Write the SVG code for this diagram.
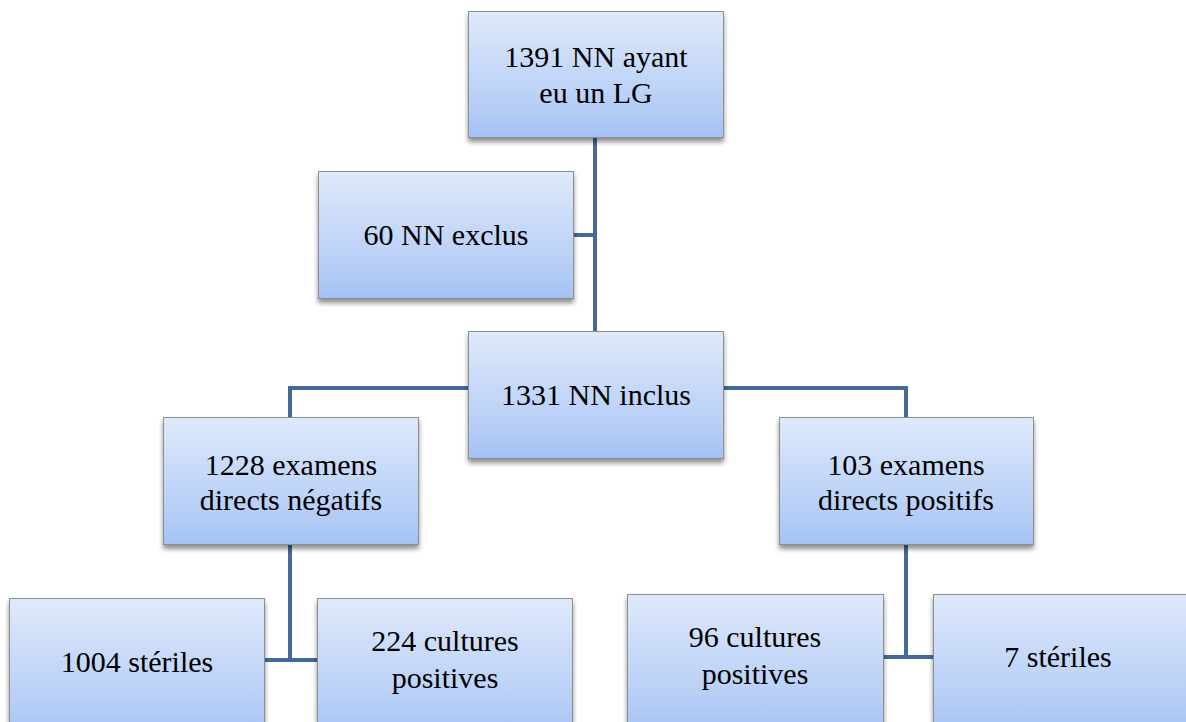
<svg xmlns="http://www.w3.org/2000/svg" width="1186" height="722" viewBox="0 0 1186 722">
<defs>
<linearGradient id="g" x1="0" y1="0" x2="0" y2="1">
<stop offset="0" stop-color="#dfe9fb"/>
<stop offset="0.8" stop-color="#b3ccf6"/>
<stop offset="1" stop-color="#a3c1f6"/>
</linearGradient>
<filter id="sh" x="-10%" y="-10%" width="120%" height="130%">
<feGaussianBlur in="SourceAlpha" stdDeviation="2.5"/>
<feOffset dx="0" dy="4" result="b"/>
<feComponentTransfer><feFuncA type="linear" slope="0.45"/></feComponentTransfer>
<feMerge><feMergeNode/><feMergeNode in="SourceGraphic"/></feMerge>
</filter>
</defs>
<style>
.box{fill:url(#g);stroke:#8e8e8e;stroke-width:1;filter:url(#sh)}
.t{font-family:"Liberation Serif",Tinos,"Times New Roman",Times,"Nimbus Roman","Noto Serif","DejaVu Serif",FreeSerif,serif;font-size:30px;fill:#000;text-anchor:middle}
.c{fill:none;stroke:#44699a;stroke-width:4}
</style>
<rect width="1186" height="722" fill="#fff"/>
<g id="connectors">
<path class="c" d="M595,137 V331"/>
<path class="c" d="M573,235 H595"/>
<path class="c" d="M468,388 H290 V417"/>
<path class="c" d="M723,388 H906 V417"/>
<path class="c" d="M290,545 V660"/>
<path class="c" d="M264,660 H317"/>
<path class="c" d="M906,545 V657"/>
<path class="c" d="M884,657 H933"/>
</g>
<g id="n1"><rect class="box" x="468.5" y="11.5" width="255" height="126"/>
<text class="t" x="596" y="67">1391 NN ayant</text><text class="t" x="596" y="103">eu un LG</text></g>
<g id="n2"><rect class="box" x="318.5" y="171.5" width="255" height="127"/>
<text class="t" x="446" y="245">60 NN exclus</text></g>
<g id="n3"><rect class="box" x="468.5" y="331.5" width="255" height="127"/>
<text class="t" x="596" y="405">1331 NN inclus</text></g>
<g id="n4"><rect class="box" x="163.5" y="417.5" width="255" height="127"/>
<text class="t" x="291" y="475">1228 examens</text><text class="t" x="291" y="510">directs négatifs</text></g>
<g id="n5"><rect class="box" x="779.5" y="417.5" width="254" height="127"/>
<text class="t" x="906" y="475">103 examens</text><text class="t" x="906" y="510">directs positifs</text></g>
<g id="n6"><rect class="box" x="9.5" y="598.5" width="255" height="140"/>
<text class="t" x="137" y="672">1004 stériles</text></g>
<g id="n7"><rect class="box" x="317.5" y="598.5" width="255" height="140"/>
<text class="t" x="445" y="651">224 cultures</text><text class="t" x="445" y="688">positives</text></g>
<g id="n8"><rect class="box" x="627.5" y="594.5" width="256" height="140"/>
<text class="t" x="755" y="647">96 cultures</text><text class="t" x="755" y="684">positives</text></g>
<g id="n9"><rect class="box" x="933.5" y="594.5" width="260" height="140"/>
<text class="t" x="1058" y="667">7 stériles</text></g>
</svg>
